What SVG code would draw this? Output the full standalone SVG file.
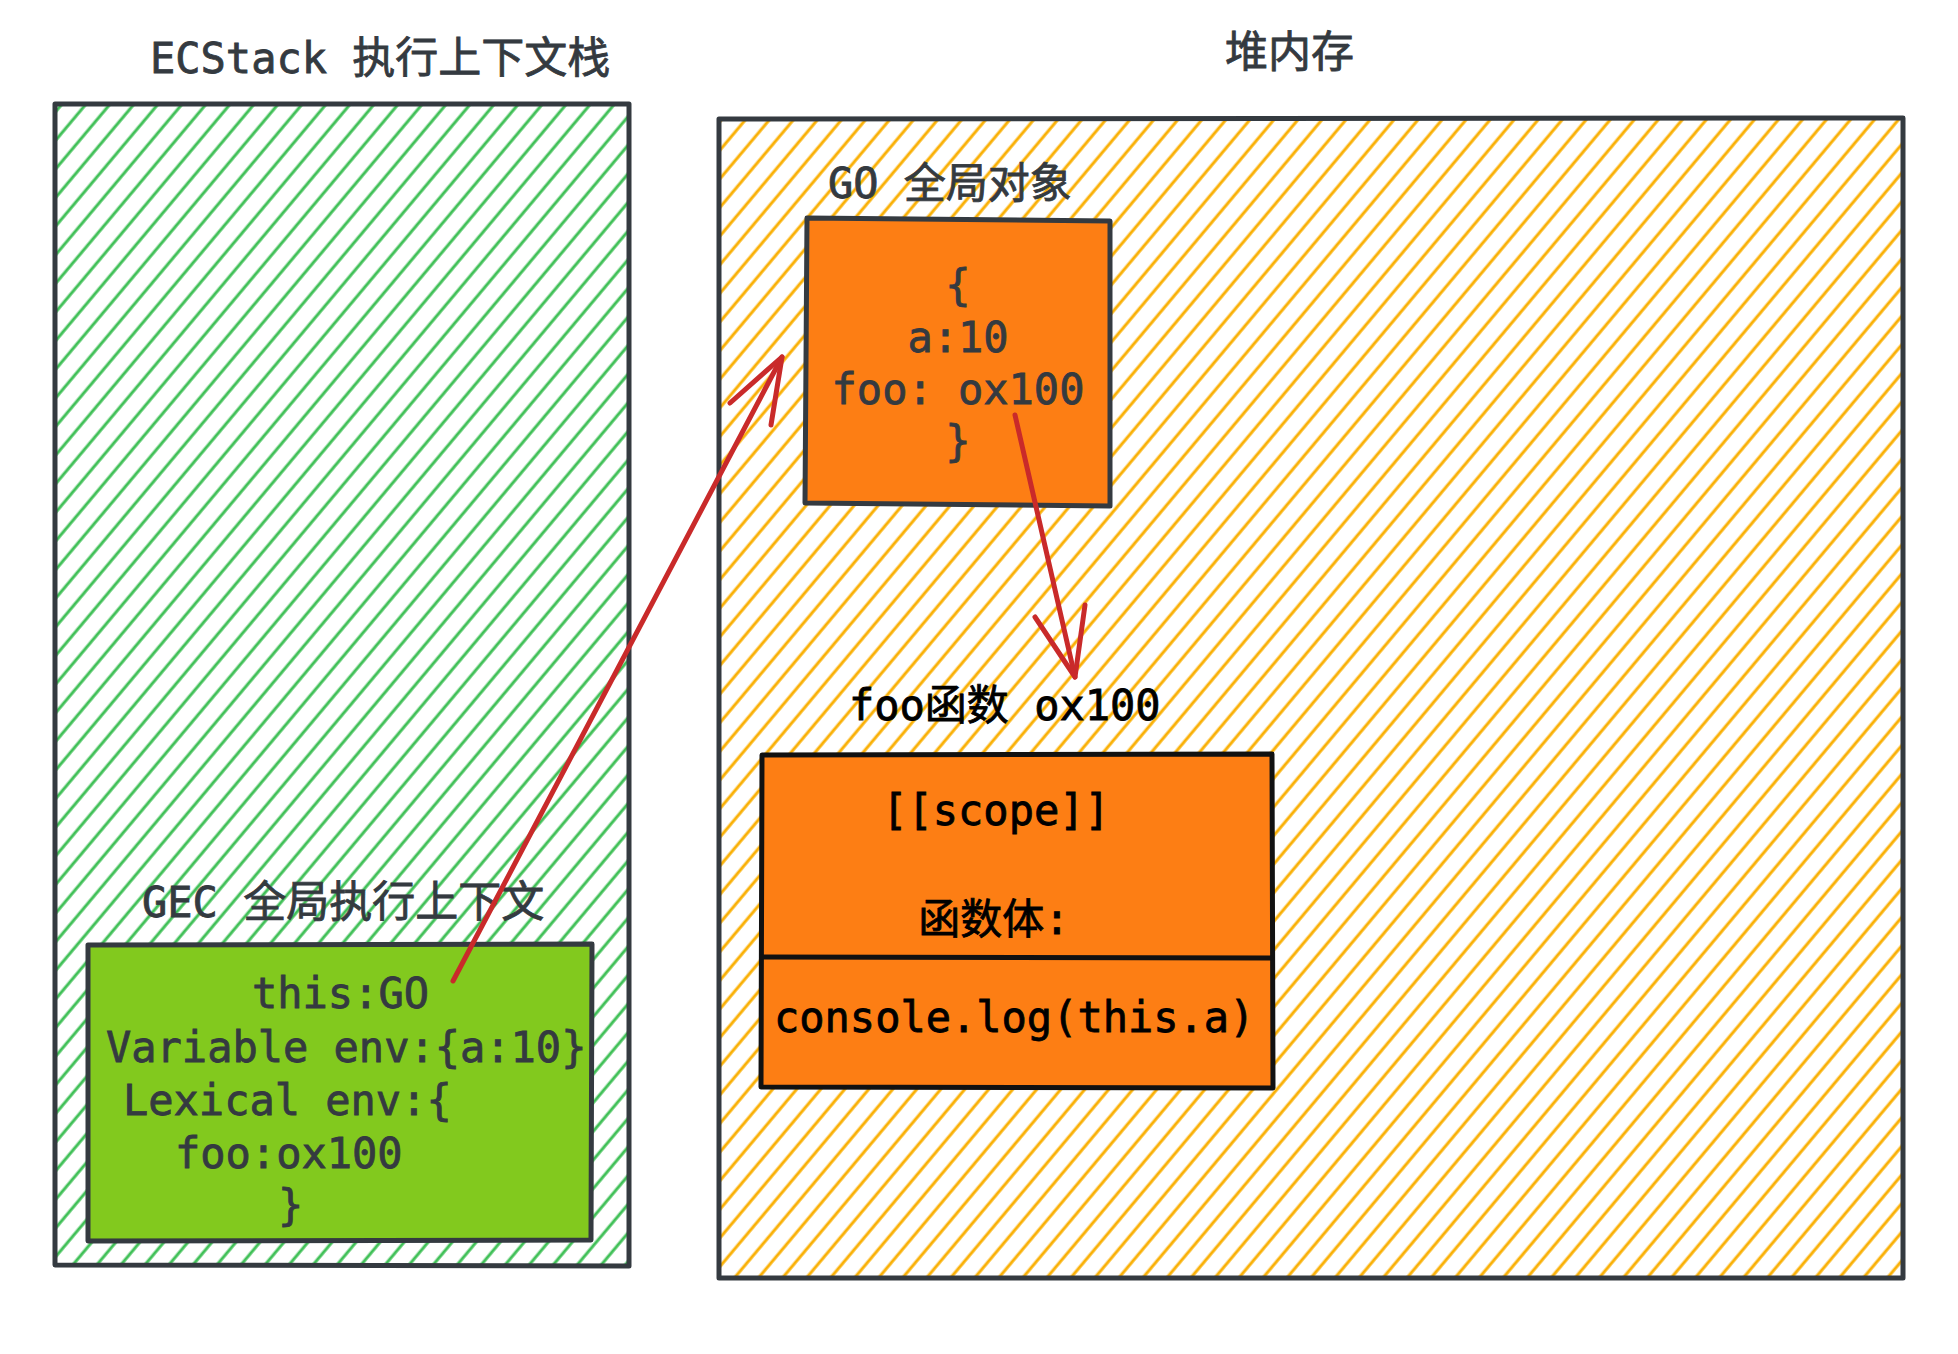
<svg xmlns="http://www.w3.org/2000/svg" width="1958" height="1354" viewBox="0 0 1958 1354">
  <defs>
    <pattern id="hatchGreen" patternUnits="userSpaceOnUse" width="18.4" height="40" patternTransform="rotate(40)">
      <line x1="4" y1="0" x2="4" y2="40" stroke="#40c057" stroke-width="3"/>
    </pattern>
    <pattern id="hatchYellow" patternUnits="userSpaceOnUse" width="18.4" height="40" patternTransform="rotate(40)">
      <line x1="4" y1="0" x2="4" y2="40" stroke="#fab005" stroke-width="3"/>
    </pattern>
    <style>
      .frame { stroke: #343a40; stroke-width: 5; stroke-linejoin: round; stroke-linecap: round; }
      .frameBlack { stroke: #111111; stroke-width: 5; stroke-linejoin: round; stroke-linecap: round; }
      .t { font-family: "DejaVu Sans Mono", "Liberation Mono", "Noto Sans CJK SC", monospace; font-size: 42px; fill: #343a40; stroke: #343a40; stroke-width: 0.8; }
      .tb { font-family: "DejaVu Sans Mono", "Liberation Mono", "Noto Sans CJK SC", monospace; font-size: 42px; fill: #000000; stroke: #000000; stroke-width: 0.8; }
      .c { text-anchor: middle; }
      .cjk { font-size: 43px; }
      .arrow { fill: none; stroke: #c92a2a; stroke-width: 5; stroke-linecap: round; stroke-linejoin: round; }
    </style>
  </defs>
  <rect width="1958" height="1354" fill="#ffffff"/>

  <!-- ECStack container -->
  <g id="ecstack">
    <text class="t" x="150" y="73">ECStack <tspan class="cjk">执行上下文栈</tspan></text>
    <path d="M55,104 L629,104 L629,1266 L55,1265 Z" fill="url(#hatchGreen)" class="frame"/>
  </g>

  <!-- Heap container -->
  <g id="heap">
    <text class="t cjk" x="1225" y="67">堆内存</text>
    <path d="M719,119 L1903,118 L1903,1278 L719,1278 Z" fill="url(#hatchYellow)" class="frame"/>
  </g>

  <!-- GO global object -->
  <g id="go">
    <text class="t" x="828" y="198">GO 全局对象</text>
    <path d="M807,218 L1110,221 L1110,506 L805,503 Z" fill="#fd7e14" class="frame"/>
    <text class="t c" x="958" y="300">{</text>
    <text class="t c" x="958" y="352">a:10</text>
    <text class="t c" x="958" y="404">foo: ox100</text>
    <text class="t c" x="958" y="456">}</text>
  </g>

  <!-- GEC global execution context -->
  <g id="gec">
    <text class="t" x="142" y="917">GEC <tspan class="cjk">全局执行上下文</tspan></text>
    <path d="M88,945 L592,944 L591,1240 L88,1241 Z" fill="#82c91e" class="frame"/>
    <text class="t" x="252" y="1008">this:GO</text>
    <text class="t" x="106" y="1062">Variable env:{a:10}</text>
    <text class="t" x="123" y="1115">Lexical env:{</text>
    <text class="t" x="175" y="1168">foo:ox100</text>
    <text class="t" x="278" y="1220">}</text>
  </g>

  <!-- foo function object -->
  <g id="foo">
    <text class="tb" x="849" y="720">foo函数 ox100</text>
    <path d="M762,755 L1272,754 L1273,1088 L761,1087 Z" fill="#fd7e14" class="frameBlack"/>
    <line x1="762" y1="957" x2="1271" y2="958" class="frameBlack"/>
    <text class="tb c" x="996" y="825">[[scope]]</text>
    <text class="tb c" x="994" y="934">函数体:</text>
    <text class="tb" x="774" y="1032">console.log(this.a)</text>
  </g>

  <!-- connectors -->
  <g id="connectors">
    <path class="arrow" d="M453,981 L782,357"/>
    <path class="arrow" d="M730,403 L782,357 L771,425"/>
    <path class="arrow" d="M1015,415 L1075,677"/>
    <path class="arrow" d="M1035,617 L1075,677 L1085,605"/>
  </g>
</svg>
